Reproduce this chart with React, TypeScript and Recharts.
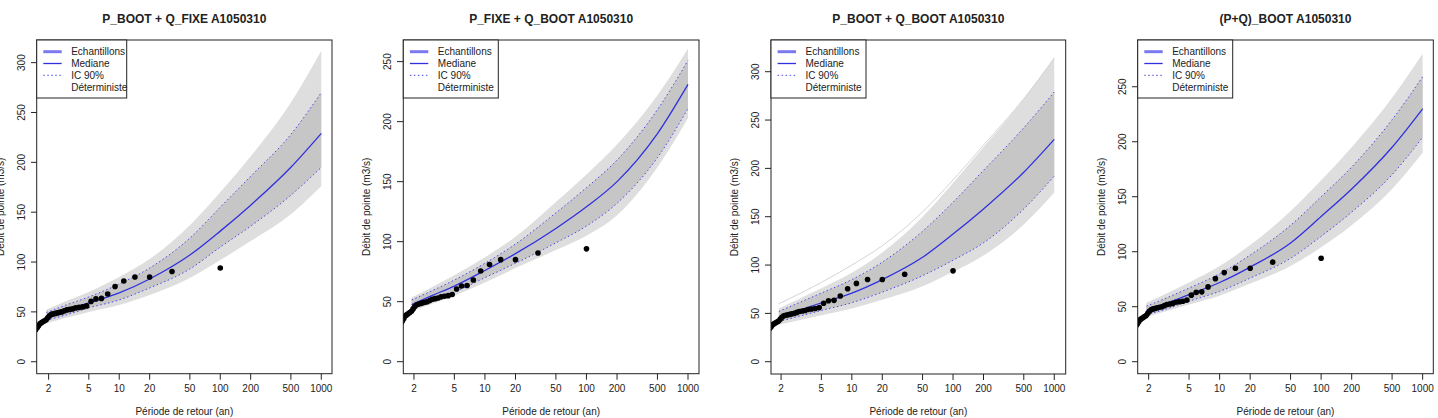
import React from "react";
import { ComposedChart, XAxis, YAxis, Area, Line, Scatter } from "recharts";

const FONT = "'Liberation Sans', Arial, Helvetica, sans-serif";

// Return periods (years) of the sample curves
const T_GRID = [1.9, 3, 5, 10, 20, 50, 100, 200, 500, 1000];
const X_TICKS = [2, 5, 10, 20, 50, 100, 200, 500, 1000];

// Observed annual maxima (plotting positions)
const OBS_T = [100, 33.3, 20, 14.3, 11.1, 9.09, 7.69, 6.67, 5.88, 5.26, 4.76, 4.35, 4.0, 3.7, 3.45, 3.23, 3.03, 2.86, 2.7, 2.56, 2.44, 2.33, 2.22, 2.13, 2.04, 1.96, 1.89, 1.82, 1.75, 1.69, 1.64, 1.59, 1.54, 1.49, 1.45];
const OBS_Q = [94, 90.5, 85, 85, 81, 75.5, 68, 63.5, 63, 60.5, 56, 55, 54.5, 54, 53, 52.5, 52, 51, 50, 49.5, 49, 48.5, 48, 47.5, 46, 44, 42, 41, 40, 39, 38, 36, 34, 32, 31];

// Panel 1: P_BOOT + Q_FIXE
const P1_MED = [45.5, 52, 59, 69, 83, 107, 131, 157, 195, 229];
const P1_CI_HI = [49.5, 57, 65, 78, 94, 124, 155, 186, 228, 270];
const P1_CI_LO = [41.5, 47, 54, 62, 74, 93, 115, 136, 167, 195];
const P1_ENV_HI = [52.5, 61, 70, 85, 103, 137, 170, 206, 260, 312];
const P1_ENV_LO = [38.5, 44, 50, 57, 67, 84, 102, 121, 148, 176];

// Panel 2: P_FIXE + Q_BOOT
const P2_MED = [47.5, 55, 63, 76, 90, 111, 129, 150, 190, 231];
const P2_CI_HI = [51.5, 59, 68, 82, 98, 124, 145, 168, 210, 251];
const P2_CI_LO = [44.5, 51, 58, 70, 82, 99, 113, 132, 170, 211];
const P2_ENV_HI = [53.5, 62, 72, 87, 104, 133, 156, 181, 222, 261];
const P2_ENV_LO = [42.5, 48, 55, 66, 78, 93, 105, 122, 162, 203];

// Panel 3: P_BOOT + Q_BOOT
const P3_MED = [46.5, 53, 61, 71, 85, 108, 132, 158, 196, 230];
const P3_CI_HI = [52, 61, 71, 85, 103, 135, 165, 198, 242, 279];
const P3_CI_LO = [41.5, 47, 53, 61, 72, 89, 105, 123, 158, 192];
const P3_ENV_HI = [55, 65, 76, 92, 113, 150, 185, 222, 272, 315];
const P3_ENV_LO = [38.5, 43, 48, 55, 64, 78, 93, 110, 142, 175];
const P3_OUTLIER = [60, 70, 82, 100, 120, 155, 188, 224, 272, 314];

// Panel 4: (P+Q)_BOOT
const P4_MED = [46.5, 53, 61, 72, 86, 108, 132, 157, 195, 230];
const P4_CI_HI = [50.5, 58, 67, 80, 97, 124, 150, 177, 220, 259];
const P4_CI_LO = [42.5, 48, 55, 64, 76, 94, 114, 136, 170, 204];
const P4_ENV_HI = [53.5, 62, 72, 87, 106, 137, 165, 195, 240, 280];
const P4_ENV_LO = [40.5, 46, 52, 60, 71, 87, 104, 124, 157, 190];

const TITLES = ["P_BOOT + Q_FIXE A1050310", "P_FIXE + Q_BOOT A1050310", "P_BOOT + Q_BOOT A1050310", "(P+Q)_BOOT A1050310"];
const LEGEND_LABELS = ["Echantillons", "Mediane", "IC 90%", "Déterministe"];
const X_LABEL = "Période de retour (an)";
const Y_LABEL = "Débit de pointe (m3/s)";

type Cfg = {
  title: string;
  med: number[]; ciHi: number[]; ciLo: number[]; envHi: number[]; envLo: number[]; outlier?: number[];
  yDomain: [number, number]; yTicks: number[];
  xDomain: [number, number];
  left: number; right: number; top: number; bottom: number; legendW: number;
};

const PANELS: Cfg[] = [
  { title: TITLES[0], med: P1_MED, ciHi: P1_CI_HI, ciLo: P1_CI_LO, envHi: P1_ENV_HI, envLo: P1_ENV_LO,
    yDomain: [-12.0, 322.7], yTicks: [0, 50, 100, 150, 200, 250, 300], xDomain: [1.535, 1285],
    left: 36.7, right: 332, top: 40, bottom: 373.7, legendW: 90 },
  { title: TITLES[1], med: P2_MED, ciHi: P2_CI_HI, ciLo: P2_CI_LO, envHi: P2_ENV_HI, envLo: P2_ENV_LO,
    yDomain: [-10, 268], yTicks: [0, 50, 100, 150, 200, 250], xDomain: [1.56, 1274],
    left: 403.3, right: 699, top: 40, bottom: 373.7, legendW: 95 },
  { title: TITLES[2], med: P3_MED, ciHi: P3_CI_HI, ciLo: P3_CI_LO, envHi: P3_ENV_HI, envLo: P3_ENV_LO, outlier: P3_OUTLIER,
    yDomain: [-12.7, 332.8], yTicks: [0, 50, 100, 150, 200, 250, 300], xDomain: [1.59, 1297],
    left: 771, right: 1065.7, top: 40, bottom: 374, legendW: 95 },
  { title: TITLES[3], med: P4_MED, ciHi: P4_CI_HI, ciLo: P4_CI_LO, envHi: P4_ENV_HI, envLo: P4_ENV_LO,
    yDomain: [-10.9, 292.5], yTicks: [0, 50, 100, 150, 200, 250], xDomain: [1.57, 1282],
    left: 1137.7, right: 1433.3, top: 40, bottom: 373.7, legendW: 95 },
];

const OBS = OBS_T.map((t, i) => ({ T: t, Q: OBS_Q[i] }));
const AXW = 40;
const RM = 4;

function Panel({ cfg }: { cfg: Cfg }) {
  const rows = T_GRID.map((t, i) => ({
    T: t,
    env: [cfg.envLo[i], cfg.envHi[i]],
    ci: [cfg.ciLo[i], cfg.ciHi[i]],
    lo: cfg.ciLo[i],
    hi: cfg.ciHi[i],
    med: cfg.med[i],
    out: cfg.outlier ? cfg.outlier[i] : undefined,
  }));
  const width = cfg.right - cfg.left + AXW + RM;
  const yTick = (p: any) => {
    const y = p.y;
    const x = AXW - 12;
    return (
      <text x={x} y={y} transform={`rotate(-90 ${x} ${y})`} textAnchor="middle" fontSize={10} fill="#222" fontFamily={FONT}>
        {p.payload.value}
      </text>
    );
  };
  return (
    <div style={{ position: "absolute", left: cfg.left - AXW, top: 0 }}>
      <ComposedChart width={width} height={418} data={rows} margin={{ top: cfg.top, right: RM, bottom: 0, left: 0 }}>
        <XAxis dataKey="T" type="number" scale="log" domain={cfg.xDomain} allowDataOverflow ticks={X_TICKS} interval={0}
          height={418 - cfg.bottom} tickSize={6} tickMargin={5} axisLine={false} tickLine={{ stroke: "#222" }}
          tick={{ fontSize: 10, fill: "#222", fontFamily: FONT }} />
        <YAxis type="number" domain={cfg.yDomain} allowDataOverflow ticks={cfg.yTicks} interval={0} width={AXW}
          tickSize={6} axisLine={false} tickLine={{ stroke: "#222" }} tick={yTick} />
        <Area dataKey="env" type="monotone" stroke="none" fill="#dedede" fillOpacity={1} isAnimationActive={false} activeDot={false} />
        <Area dataKey="ci" type="monotone" stroke="none" fill="#c6c6c6" fillOpacity={1} isAnimationActive={false} activeDot={false} />
        {cfg.outlier ? (
          <Line dataKey="out" type="monotone" stroke="#d4d4d4" strokeWidth={1} dot={false} isAnimationActive={false} />
        ) : null}
        <Line dataKey="hi" type="monotone" stroke="#4a4ae8" strokeWidth={1} strokeDasharray="1.5 2.5" dot={false} isAnimationActive={false} />
        <Line dataKey="lo" type="monotone" stroke="#4a4ae8" strokeWidth={1} strokeDasharray="1.5 2.5" dot={false} isAnimationActive={false} />
        <Line dataKey="med" type="monotone" stroke="#3030e0" strokeWidth={1.3} dot={false} isAnimationActive={false} />
        <Scatter data={OBS} dataKey="Q" fill="#000" isAnimationActive={false}
          shape={(p: any) => <circle cx={p.cx} cy={p.cy} r={2.8} fill="#000" />} />
      </ComposedChart>
    </div>
  );
}

function Overlay() {
  return (
    <svg width={1438} height={418} style={{ position: "absolute", left: 0, top: 0, pointerEvents: "none" }}>
      {PANELS.map((c, k) => {
        const cx = (c.left + c.right) / 2;
        const cy = (c.top + c.bottom) / 2;
        const yl = c.left - 33;
        return (
          <g key={k} fontFamily={FONT} fill="#222">
            <rect x={c.left} y={c.top} width={c.right - c.left} height={c.bottom - c.top} fill="none" stroke="#222" strokeWidth={1} />
            <text x={cx} y={23} textAnchor="middle" fontSize={12} fontWeight="bold">{c.title}</text>
            <text x={cx} y={415} textAnchor="middle" fontSize={10}>{X_LABEL}</text>
            <text x={yl} y={cy} transform={`rotate(-90 ${yl} ${cy})`} textAnchor="middle" fontSize={10}>{Y_LABEL}</text>
            <rect x={c.left} y={c.top} width={c.legendW} height={58} fill="#fff" stroke="#222" strokeWidth={1} />
            <line x1={c.left + 6.6} x2={c.left + 25} y1={51.7} y2={51.7} stroke="#7a7aee" strokeWidth={3} />
            <line x1={c.left + 6.6} x2={c.left + 25} y1={63.5} y2={63.5} stroke="#3030e0" strokeWidth={1.3} />
            <line x1={c.left + 6.6} x2={c.left + 25} y1={75.3} y2={75.3} stroke="#4a4ae8" strokeWidth={1} strokeDasharray="1.5 2.5" />
            {LEGEND_LABELS.map((l, i) => (
              <text key={l} x={c.left + 34.5} y={55.2 + i * 11.8} fontSize={10}>{l}</text>
            ))}
          </g>
        );
      })}
    </svg>
  );
}

export default function App() {
  return (
    <div style={{ position: "absolute", left: 0, top: 0, width: 1438, height: 418, background: "#fff", overflow: "hidden" }}>
      {PANELS.map((c, k) => (
        <Panel key={k} cfg={c} />
      ))}
      <Overlay />
    </div>
  );
}
